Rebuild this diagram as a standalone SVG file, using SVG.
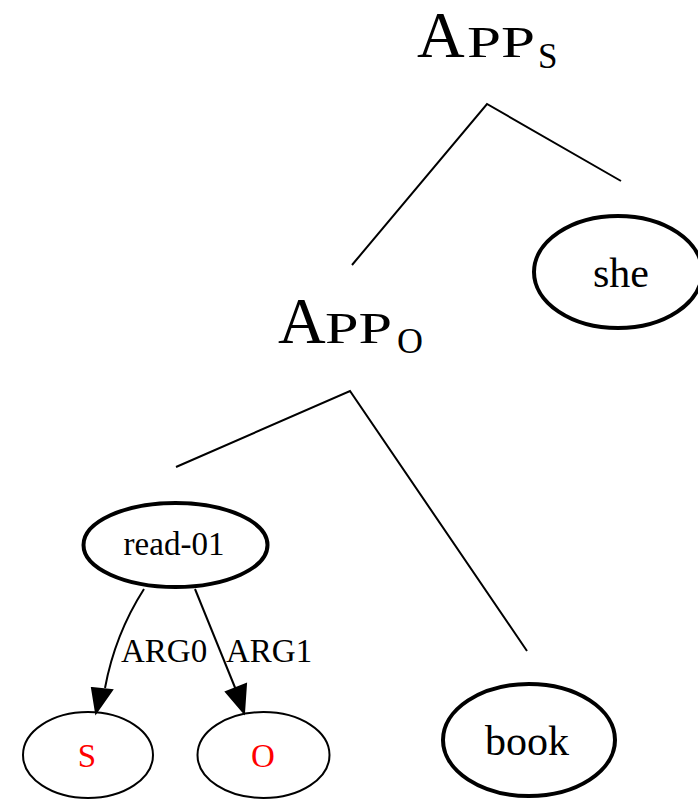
<svg xmlns="http://www.w3.org/2000/svg" width="698" height="800" viewBox="0 0 698 800">
<style>
text{font-family:"Liberation Serif","Times New Roman",serif;fill:#000}
.bold{fill:none;stroke:#000;stroke-width:4}
.thin{fill:none;stroke:#000;stroke-width:2}
.line{stroke:#000;stroke-width:2;fill:none}
.head{fill:#000;stroke:#000;stroke-width:2}
.red{fill:#ff0000}
.big{font-size:66px}
.sc{font-size:44px}
</style>
<g id="appS">
<text class="big" x="417" y="57">A</text>
<text class="sc" x="467" y="57" textLength="68" lengthAdjust="spacingAndGlyphs">PP</text>
<text x="538" y="68" font-size="35">S</text>
</g>
<g id="appO">
<text class="big" x="278" y="343">A</text>
<text class="sc" x="325" y="343" textLength="67" lengthAdjust="spacingAndGlyphs">PP</text>
<text x="397" y="353" font-size="36">O</text>
</g>
<g id="she">
<ellipse class="bold" cx="618" cy="272" rx="84" ry="56"/>
<text x="621" y="287" font-size="42" text-anchor="middle">she</text>
</g>
<g id="read01">
<ellipse class="bold" cx="175.5" cy="545" rx="92" ry="42"/>
<text x="174" y="555" font-size="33" text-anchor="middle">read-01</text>
</g>
<g id="S">
<ellipse class="thin" cx="88" cy="755" rx="65" ry="43"/>
<text class="red" x="87" y="767" font-size="33" text-anchor="middle">S</text>
</g>
<g id="O">
<ellipse class="thin" cx="263.5" cy="755" rx="66" ry="43"/>
<text class="red" x="263" y="767" font-size="33" text-anchor="middle">O</text>
</g>
<g id="book">
<ellipse class="bold" cx="529" cy="740" rx="86" ry="56"/>
<text x="527" y="755" font-size="42" text-anchor="middle">book</text>
</g>
<g id="connectors">
<polyline class="line" points="352,265 487,104 621,181"/>
<polyline class="line" points="176,467 350,391 527,651"/>
<path d="M144,589 C128,614 113,645 105,688" class="line"/>
<path d="M92,688 L112,690 L96,713 z" class="head"/>
<path d="M195,589 L236,690" class="line"/>
<path d="M226,692 L246,684 L244,713 z" class="head"/>
<text x="121" y="662" font-size="33">ARG0</text>
<text x="226" y="662" font-size="33">ARG1</text>
</g>
</svg>
